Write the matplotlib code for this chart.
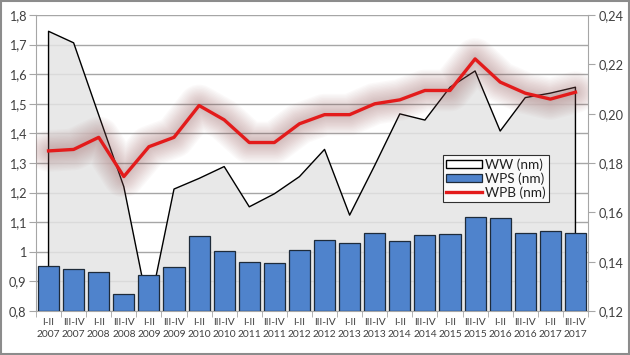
import numpy as np
import matplotlib as mpl
mpl.use('Agg')
import matplotlib.pyplot as plt
from matplotlib.patches import Rectangle, Patch
from matplotlib.lines import Line2D

plt.rcParams['font.family'] = ['Lato', 'DejaVu Sans']

# periods (half-years)
periods = ['I-II\n2007', 'III-IV\n2007', 'I-II\n2008', 'III-IV\n2008',
           'I-II\n2009', 'III-IV\n2009', 'I-II\n2010', 'III-IV\n2010',
           'I-II\n2011', 'III-IV\n2011', 'I-II\n2012', 'III-IV\n2012',
           'I-II\n2013', 'III-IV\n2013', 'I-II\n2014', 'III-IV\n2014',
           'I-II\n2015', 'III-IV\n2015', 'I-II\n2016', 'III-IV\n2016',
           'I-II\n2017', 'III-IV\n2017']

# WW (nm) - left axis
ww = [1.745, 1.706, 1.462, 1.220, 0.800, 1.212, 1.248, 1.288, 1.152, 1.196,
      1.254, 1.346, 1.124, 1.292, 1.466, 1.445, 1.556, 1.611, 1.408, 1.521,
      1.536, 1.556]

# WPS (nm) - right axis
wps = [0.1384, 0.1372, 0.1360, 0.1267, 0.1346, 0.1379, 0.1505, 0.1444,
       0.1397, 0.1393, 0.1446, 0.1487, 0.1476, 0.1517, 0.1482, 0.1507,
       0.1514, 0.1580, 0.1576, 0.1518, 0.1525, 0.1518]

# WPB (nm) - right axis
wpb = [0.1849, 0.1855, 0.1904, 0.1745, 0.1866, 0.1904, 0.2033, 0.1975,
       0.1883, 0.1883, 0.1959, 0.1996, 0.1996, 0.2040, 0.2056, 0.2094,
       0.2094, 0.2222, 0.2128, 0.2083, 0.2059, 0.2087]

left_ticks = [0.8, 0.9, 1.0, 1.1, 1.2, 1.3, 1.4, 1.5, 1.6, 1.7, 1.8]
left_labels = ['0,8', '0,9', '1', '1,1', '1,2', '1,3', '1,4', '1,5', '1,6', '1,7', '1,8']
right_ticks = [0.12, 0.14, 0.16, 0.18, 0.20, 0.22, 0.24]
right_labels = ['0,12', '0,14', '0,16', '0,18', '0,20', '0,22', '0,24']

x = np.arange(len(periods))
axis_col = '#a6a6a6'
text_col = '#404040'

fig = plt.figure(figsize=(6.3, 3.55), dpi=100)
ax = fig.add_axes([36/630, 44/355, 552/630, 296/355])

# WW area
ax.fill_between(x, 0.8, ww, facecolor='#e4e4e4', edgecolor='none', alpha=0.85, zorder=1)
ax.plot(np.r_[x[0], x, x[-1]], np.r_[0.8, ww, 0.8], color='black', lw=1.0, zorder=2)

ax.set_xlim(-0.5, len(periods) - 0.5)
ax.set_ylim(0.8, 1.8)
ax.set_yticks(left_ticks)
ax.set_yticklabels(left_labels)
ax.grid(axis='y', color=axis_col, lw=1.0, zorder=0)
ax.set_axisbelow(True)
ax.set_xticks(x)
ax.set_xticklabels(periods, fontsize=7.4, color=text_col, linespacing=1.5)
ax.set_xticks(np.arange(-0.5, len(periods), 1), minor=True)
ax.tick_params(axis='x', which='major', length=0, pad=5)
ax.tick_params(axis='x', which='minor', length=4, color=axis_col)
ax.tick_params(axis='y', length=5, color=axis_col, labelsize=9.2, labelcolor=text_col, pad=2)
for s in ['top', 'right']:
    ax.spines[s].set_visible(False)
ax.spines['left'].set_color(axis_col)
ax.spines['bottom'].set_color(axis_col)

ax2 = ax.twinx()
ax2.bar(x, np.array(wps) - 0.12, bottom=0.12, width=0.84, color='#4f83cc',
        edgecolor='#1e2b3a', lw=0.9, zorder=2)

# soft glow behind WPB line
for lw in np.linspace(30, 4, 14):
    ax2.plot(x, wpb, color='#9a5a5a', lw=lw, alpha=0.03, solid_capstyle='round',
             solid_joinstyle='round', zorder=3)
ax2.plot(x, wpb, color='#e31b1b', lw=2.4, solid_joinstyle='round', zorder=4)

ax2.set_ylim(0.12, 0.24)
ax2.set_yticks(right_ticks)
ax2.set_yticklabels(right_labels)
ax2.tick_params(axis='y', length=5, color=axis_col, labelsize=9.2, labelcolor=text_col, pad=3)
for s in ['top', 'left', 'bottom']:
    ax2.spines[s].set_visible(False)
ax2.spines['right'].set_color(axis_col)

handles = [Patch(facecolor='white', edgecolor='black', lw=1.0, label='WW (nm)'),
           Patch(facecolor='#4f83cc', edgecolor='#1e2b3a', lw=0.9, label='WPS (nm)'),
           Line2D([], [], color='#e31b1b', lw=2.4, label='WPB (nm)')]
leg = ax2.legend(handles=handles, loc='upper left', bbox_to_anchor=(407/552, 1 - 140/296),
                 fontsize=9.8, frameon=True, fancybox=False, handlelength=2.6,
                 handleheight=0.55, handletextpad=0.2, borderpad=0.25,
                 labelspacing=0.1, borderaxespad=0)
leg.get_frame().set_edgecolor('black')
leg.get_frame().set_linewidth(0.8)
for t in leg.get_texts():
    t.set_color('#202020')
leg.set_zorder(10)

# chart border
fig.patches.append(Rectangle((0.002, 0.003), 0.996, 0.994, transform=fig.transFigure,
                             fill=False, edgecolor='#8c8c8c', lw=1.5))

fig.savefig('out.png', dpi=100)
